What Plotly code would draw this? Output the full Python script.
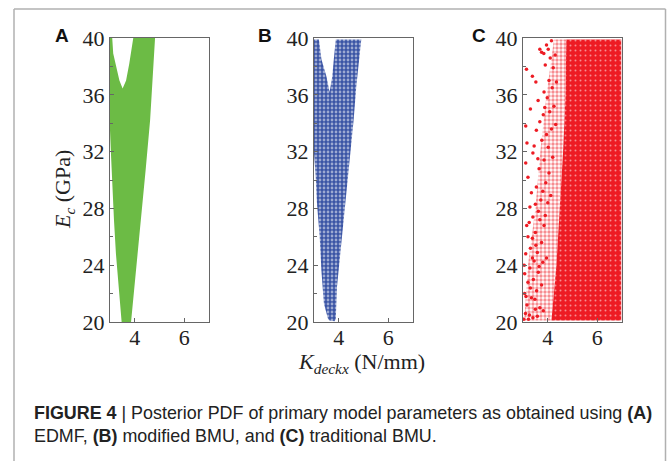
import plotly.graph_objects as go

W, H = 667, 461

# ---------------- data ----------------
# Panel A (EDMF): outline of the candidate-model region, K_deckx (N/mm) vs Ec (GPa)
edmf_k = [3.00, 3.09, 3.13, 3.27, 3.38, 3.51, 3.65, 3.78, 3.94, 4.82,
          4.62, 4.44, 4.25, 4.10, 3.97, 3.85, 3.47, 3.34, 3.24, 3.16, 3.09, 3.04, 3.00]
edmf_e = [40.0, 40.0, 38.9, 37.75, 37.0, 36.45, 37.0, 38.2, 40.0, 40.0,
          34.2, 30.7, 27.2, 24.8, 22.5, 20.0, 20.0, 22.5, 24.8, 27.2, 29.5, 31.8, 33.5]

# Panel B (modified BMU): outline of the posterior sample cloud
mbmu_k = [3.00, 3.20, 3.30, 3.50, 3.63, 3.74, 3.80, 3.88, 4.91, 4.85, 4.71, 4.60,
          4.47, 4.33, 4.20, 4.04, 3.93, 3.88, 3.83, 3.63, 3.57, 3.40, 3.30, 3.23,
          3.12, 3.07, 3.00]
mbmu_e = [39.9, 39.9, 38.5, 37.3, 36.2, 37.3, 38.5, 39.9, 39.9, 38.9, 36.6, 34.2,
          31.9, 29.5, 27.2, 24.8, 22.5, 20.2, 20.05, 20.1, 20.2, 21.3, 23.6, 26.0,
          28.35, 30.2, 31.9]

# Panel C (traditional BMU): dense core, medium band and sparse samples
tbmu_core_k = [4.75, 6.97, 6.97, 4.15, 4.35, 4.50, 4.62, 4.72]
tbmu_core_e = [39.9, 39.9, 20.1, 20.1, 24.0, 28.0, 32.0, 36.0]
tbmu_mid_k = [4.25, 4.75, 4.72, 4.62, 4.50, 4.35, 4.15, 3.05, 3.20, 3.50, 3.70, 3.95]
tbmu_mid_e = [39.9, 39.9, 36.0, 32.0, 28.0, 24.0, 20.1, 20.1, 24.0, 28.0, 32.0, 36.0]
tbmu_k = [3.14, 3.38, 3.68, 3.75, 3.84, 3.95, 4.02, 3.90, 4.10, 4.15, 4.22, 4.05, 3.61, 3.85,
          4.18, 3.98, 4.30, 4.35, 3.52,
          3.11, 3.54, 3.68, 3.82, 3.95, 4.08, 4.15, 3.45, 3.76, 4.25, 4.02, 3.30, 3.88, 4.32, 3.16,
          3.11, 3.20, 3.40, 3.54, 3.34, 3.65, 3.72, 3.85, 3.92, 4.05, 4.12, 3.50, 3.28, 3.80,
          4.20, 3.60, 4.00,
          3.68, 3.40, 3.20, 3.11, 3.30, 3.50, 3.58, 3.75, 3.45, 3.85, 3.95, 3.62, 3.25, 3.38,
          3.80, 3.15, 3.52, 3.90,
          3.07, 3.07, 3.10, 3.03, 3.16, 3.26, 3.34, 3.20, 3.42, 3.28, 3.50, 3.55, 3.62, 3.68,
          3.40, 3.12, 3.48, 3.75, 3.58, 3.30, 3.05, 3.82, 3.22, 3.65, 3.38]
tbmu_e = [37.8, 37.3, 39.2, 39.0, 38.9, 39.5, 39.2, 38.1, 38.6, 39.8, 37.9, 37.0, 35.6, 36.2,
          36.5, 35.8, 38.8, 36.9, 36.9,
          33.8, 33.5, 34.1, 34.6, 33.2, 34.8, 33.6, 32.4, 32.8, 35.2, 32.3, 35.0, 35.1, 33.9, 32.6,
          31.2, 30.2, 31.9, 29.5, 29.1, 30.8, 28.6, 31.4, 29.8, 30.5, 28.9, 28.3, 28.1, 29.2,
          31.6, 31.5, 28.4,
          27.2, 27.4, 26.0, 24.8, 25.2, 26.3, 24.9, 25.6, 24.3, 26.8, 24.5, 27.8, 27.0, 25.9,
          24.2, 26.8, 25.4, 27.5,
          23.4, 22.0, 20.6, 20.2, 21.2, 20.5, 21.7, 22.8, 23.0, 23.8, 20.9, 22.2, 23.5, 21.0,
          20.3, 21.8, 21.6, 22.6, 20.4, 22.4, 24.0, 20.8, 20.2, 23.9, 24.5]

x_ticks = [4, 6]
y_ticks = [20, 24, 28, 32, 36, 40]
panel_letters = ["A", "B", "C"]

GREEN = "#6cbb45"
BLUE = "#3a54a5"
RED = "#ed1c24"

# ---------------- figure ----------------
fig = go.Figure()

def px_x(p):
    return p / W

def px_y(p):
    return 1 - p / H

doms = [(110, 209), (314, 413), (523, 622)]
ydom = [px_y(322), px_y(38)]

# Panel A
fig.add_trace(go.Scatter(x=edmf_k, y=edmf_e, fill="toself", fillcolor=GREEN,
                         line=dict(width=0, color=GREEN), mode="lines",
                         xaxis="x", yaxis="y", hoverinfo="skip"))
# Panel B
fig.add_trace(go.Scatter(x=mbmu_k, y=mbmu_e, fill="toself", mode="lines",
                         line=dict(width=0, color=BLUE),
                         fillpattern=dict(shape=".", size=4, solidity=0.38,
                                          fgcolor="white", bgcolor=BLUE),
                         xaxis="x2", yaxis="y2", hoverinfo="skip"))
# Panel C
fig.add_trace(go.Scatter(x=tbmu_mid_k, y=tbmu_mid_e, fill="toself", mode="lines",
                         line=dict(width=0, color=RED),
                         fillpattern=dict(shape=".", size=4, solidity=0.55,
                                          fgcolor=RED, bgcolor="rgba(0,0,0,0)"),
                         xaxis="x3", yaxis="y3", hoverinfo="skip"))
fig.add_trace(go.Scatter(x=tbmu_core_k, y=tbmu_core_e, fill="toself", mode="lines",
                         line=dict(width=0, color=RED),
                         fillpattern=dict(shape=".", size=5, solidity=0.12,
                                          fgcolor="white", bgcolor=RED),
                         xaxis="x3", yaxis="y3", hoverinfo="skip"))
fig.add_trace(go.Scatter(x=tbmu_k, y=tbmu_e, mode="markers",
                         marker=dict(color=RED, size=3.5, line=dict(width=0)),
                         xaxis="x3", yaxis="y3", hoverinfo="skip"))

tickfont = dict(family="Liberation Serif, Times New Roman, serif", size=22, color="#222")
axis_common = dict(range=[3, 7], tickvals=x_ticks, ticks="inside", ticklen=4,
                   tickcolor="#666", showline=True, linecolor="#666", linewidth=1,
                   mirror=True, showgrid=False, zeroline=False, tickfont=tickfont,
                   ticklabelstandoff=-4,
                   fixedrange=True, automargin=False)
yaxis_common = dict(range=[20, 40], tickvals=y_ticks, ticks="inside", ticklen=4,
                    tickcolor="#666", showline=True, linecolor="#666", linewidth=1,
                    mirror=True, showgrid=False, zeroline=False, tickfont=tickfont,
                    minor=dict(tickvals=[22, 26, 30, 34, 38], ticks="inside", ticklen=3,
                               tickcolor="#666"),
                    fixedrange=True, automargin=False)

layout = dict(width=W, height=H, margin=dict(l=0, r=0, t=0, b=0, pad=0, autoexpand=False),
              paper_bgcolor="white", plot_bgcolor="white", showlegend=False)
for i, (a, b) in enumerate(doms):
    sx = "" if i == 0 else str(i + 1)
    layout["xaxis" + sx] = dict(axis_common, domain=[px_x(a), px_x(b)], anchor="y" + sx)
    layout["yaxis" + sx] = dict(yaxis_common, domain=ydom, anchor="x" + sx)
fig.update_layout(**layout)

ann = []
letter_pos = [62, 265, 479]
for L, xp in zip(panel_letters, letter_pos):
    ann.append(dict(x=px_x(xp), y=px_y(36), xref="paper", yref="paper", text="<b>%s</b>" % L,
                    showarrow=False, xanchor="center", yanchor="middle",
                    font=dict(family="Liberation Sans, Arial, sans-serif", size=19, color="#111")))
ann.append(dict(x=px_x(64), y=px_y(190), xref="paper", yref="paper",
                text="<i>E<sub>c</sub></i> (GPa)", textangle=-90, showarrow=False,
                xanchor="center", yanchor="middle",
                font=dict(family="Liberation Serif, Times New Roman, serif", size=22, color="#222")))
ann.append(dict(x=px_x(361), y=px_y(363), xref="paper", yref="paper",
                text="<i>K<sub>deckx</sub></i> (N/mm)", showarrow=False,
                xanchor="center", yanchor="middle",
                font=dict(family="Liberation Serif, Times New Roman, serif", size=22, color="#222")))
ann.append(dict(x=px_x(32), y=px_y(424), xref="paper", yref="paper",
                text="<b>FIGURE 4</b> | Posterior PDF of primary model parameters as obtained using <b>(A)</b>"
                     "<br>EDMF, <b>(B)</b> modified BMU, and <b>(C)</b> traditional BMU.",
                showarrow=False, xanchor="left", yanchor="middle", align="left",
                font=dict(family="Liberation Sans, Arial, sans-serif",
                          size=17.9, color="#222")))
fig.update_layout(annotations=ann)

frame = dict(type="line", xref="paper", yref="paper", line=dict(color="#b0b0b0", width=1.5))
fig.update_layout(shapes=[
    dict(frame, x0=px_x(14), x1=px_x(14), y0=px_y(9), y1=0),
    dict(frame, x0=px_x(14), x1=px_x(665.5), y0=px_y(9), y1=px_y(9)),
    dict(frame, x0=px_x(665.5), x1=px_x(665.5), y0=px_y(9), y1=0),
])

fig.write_html("out.html", config={"displayModeBar": False},
               post_script="document.body.style.margin='0px';document.body.style.overflow='hidden';")
